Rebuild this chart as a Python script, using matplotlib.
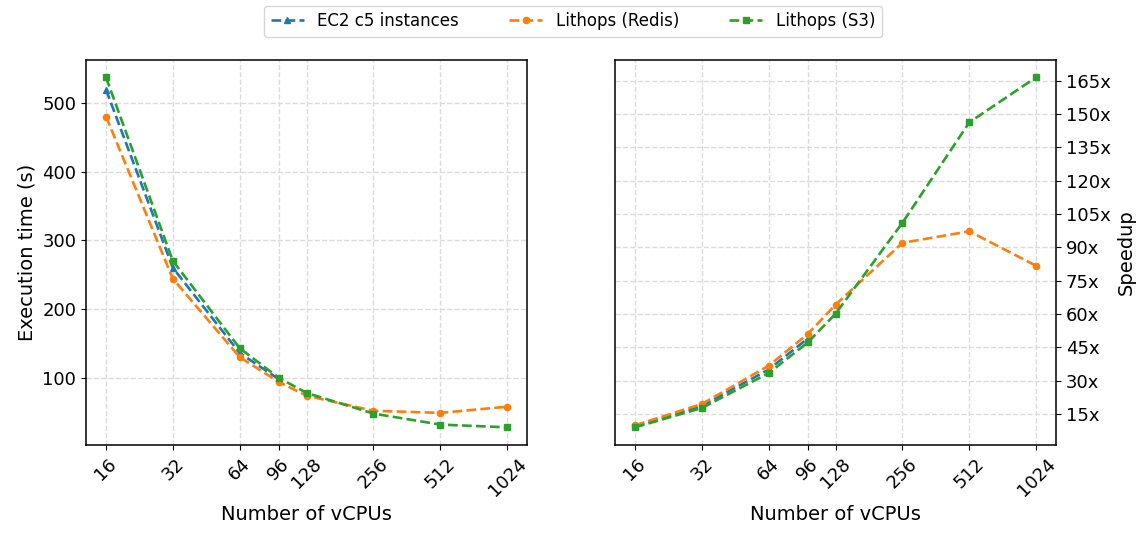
import matplotlib
matplotlib.use("Agg")
import matplotlib.pyplot as plt
from matplotlib.ticker import FixedLocator, FixedFormatter, NullLocator, FuncFormatter

vcpus = [16, 32, 64, 96, 128, 256, 512, 1024]
ec2_vcpus = [16, 32, 64, 96]

time_ec2 = [519, 260, 136, 98]
time_redis = [480, 244, 130, 94, 74, 52, 49, 58]
time_s3 = [537, 270, 143, 100, 78, 48, 32, 28]

speedup_ec2 = [9.5, 18.6, 35.0, 49.0]
speedup_redis = [9.9, 19.5, 36.7, 51.0, 64.2, 92.0, 97.2, 81.7]
speedup_s3 = [9.0, 17.7, 33.4, 47.2, 60.1, 101.0, 146.2, 166.5]

speedup_ticks = [15, 30, 45, 60, 75, 90, 105, 120, 135, 150, 165]

C_BLUE, C_ORANGE, C_GREEN = "#1f77b4", "#ff7f0e", "#2ca02c"

fig = plt.figure(figsize=(11.46, 5.34), dpi=100)
ax1 = fig.add_axes([0.075, 0.167, 0.385, 0.721])
ax2 = fig.add_axes([0.5366, 0.167, 0.385, 0.721])

line_kw = dict(linestyle="--", linewidth=1.9, markersize=4.5)

ax1.plot(ec2_vcpus, time_ec2, marker="^", color=C_BLUE, label="EC2 c5 instances", **line_kw)
ax1.plot(vcpus, time_redis, marker="o", color=C_ORANGE, label="Lithops (Redis)", **line_kw)
ax1.plot(vcpus, time_s3, marker="s", color=C_GREEN, label="Lithops (S3)", **line_kw)

ax2.plot(ec2_vcpus, speedup_ec2, marker="^", color=C_BLUE, **line_kw)
ax2.plot(vcpus, speedup_redis, marker="o", color=C_ORANGE, **line_kw)
ax2.plot(vcpus, speedup_s3, marker="s", color=C_GREEN, **line_kw)

for ax in (ax1, ax2):
    ax.set_xscale("log", base=2)
    ax.xaxis.set_major_locator(FixedLocator(vcpus))
    ax.xaxis.set_major_formatter(FixedFormatter([str(v) for v in vcpus]))
    ax.xaxis.set_minor_locator(NullLocator())
    ax.tick_params(axis="x", labelrotation=45, labelsize=13)
    ax.tick_params(axis="y", labelsize=13)
    ax.set_xlabel("Number of vCPUs", fontsize=14)
    ax.grid(True, linestyle="--", color="#dcdcdc", linewidth=1.0)
    ax.set_axisbelow(True)
    for s in ax.spines.values():
        s.set_linewidth(1.1)

ax1.set_ylabel("Execution time (s)", fontsize=14)
ax1.set_yticks([100, 200, 300, 400, 500])

ax2.yaxis.tick_right()
ax2.yaxis.set_label_position("right")
ax2.set_yticks(speedup_ticks)
ax2.yaxis.set_major_formatter(FuncFormatter(lambda v, p: f"{int(v)}x"))
ax2.set_ylabel("Speedup", fontsize=14)

fig.legend(loc="upper center", ncol=3, fontsize=12, bbox_to_anchor=(0.5, 1.005),
           frameon=True, columnspacing=3.0)

fig.savefig("out.png", dpi=100)
